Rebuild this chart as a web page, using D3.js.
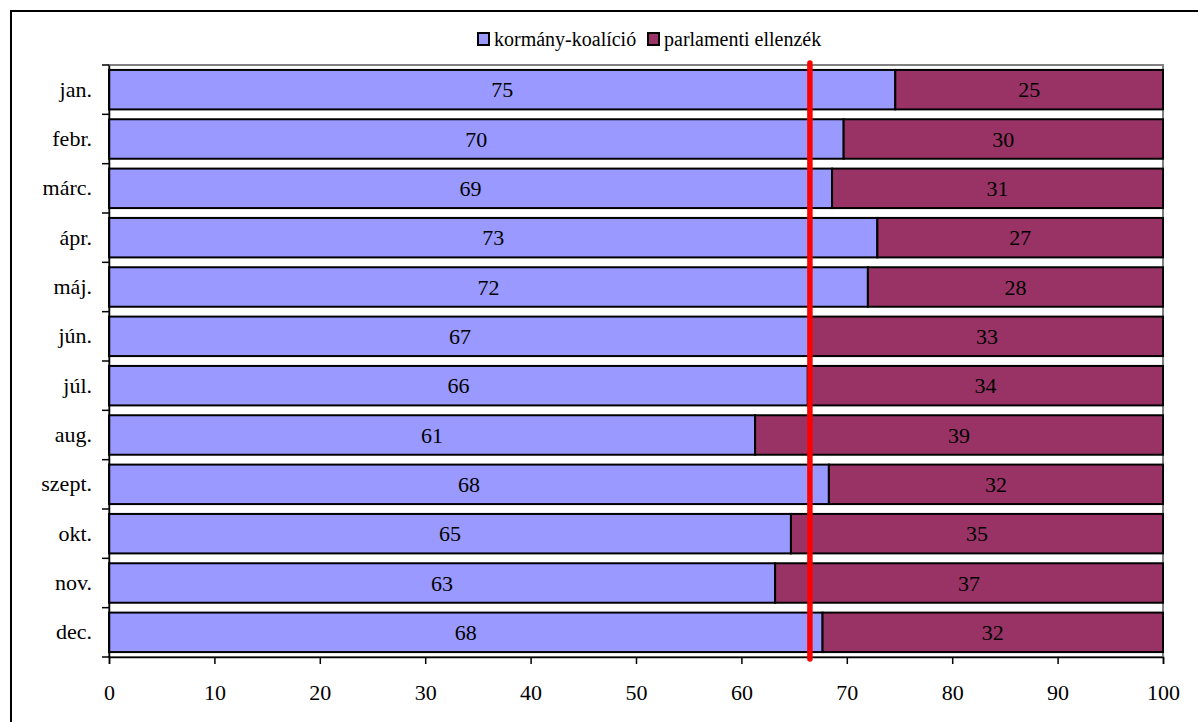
<!DOCTYPE html>
<html>
<head>
<meta charset="utf-8">
<script src="https://d3js.org/d3.v7.min.js"></script>
<style>
  body { margin: 0; background: #fff; }
</style>
</head>
<body>
<div id="chart"></div>
<script>
// months and shares (%)
var months = ["jan.", "febr.", "márc.", "ápr.", "máj.", "jún.", "júl.", "aug.", "szept.", "okt.", "nov.", "dec."];
var koalicio = [74.6, 69.7, 68.6, 72.9, 72.0, 66.6, 66.3, 61.3, 68.3, 64.7, 63.2, 67.7];
var ellenzek = [25.4, 30.3, 31.4, 27.1, 28.0, 33.4, 33.7, 38.7, 31.7, 35.3, 36.8, 32.3];
var seriesNames = ["kormány-koalíció", "parlamenti ellenzék"];
var colors = ["#9999FF", "#993366"];
var xTicks = [0, 10, 20, 30, 40, 50, 60, 70, 80, 90, 100];
var twoThirds = 66.5;

var serif = "'Liberation Serif', 'Times New Roman', Times, 'DejaVu Serif', serif";

var W = 1198, H = 722;
var margin = {top: 65, right: 35, bottom: 65, left: 109},
    width = 1163 - margin.left,
    height = 657 - margin.top;

var svg = d3.select("#chart")
  .append("svg")
    .attr("width", W)
    .attr("height", H)
    .style("font-family", serif);

// outer frame
svg.append("rect")
  .attr("x", 11).attr("y", 11)
  .attr("width", 1300).attr("height", 800)
  .attr("fill", "none")
  .attr("stroke", "#000")
  .attr("stroke-width", 2);

var g = svg.append("g")
  .attr("transform", "translate(" + margin.left + "," + margin.top + ")");

var x = d3.scaleLinear().domain([0, 100]).range([0, width]);
var y = d3.scaleBand().domain(months).range([0, height])
  .paddingInner(0.2).paddingOuter(0.1);

// plot area border
g.append("rect")
  .attr("x", 0).attr("y", 0)
  .attr("width", width).attr("height", height)
  .attr("fill", "none")
  .attr("stroke", "#808080")
  .attr("stroke-width", 2);

var rows = months.map(function(m, i) {
  return {month: m, vals: [koalicio[i], ellenzek[i]]};
});

var row = g.selectAll(".row")
  .data(rows)
  .enter().append("g")
    .attr("class", "row")
    .attr("transform", function(d) { return "translate(0," + y(d.month) + ")"; });

row.each(function(d) {
  var sel = d3.select(this);
  var start = 0;
  d.vals.forEach(function(v, k) {
    sel.append("rect")
      .attr("x", x(start))
      .attr("y", 0)
      .attr("width", x(start + v) - x(start))
      .attr("height", y.bandwidth())
      .attr("fill", colors[k])
      .attr("stroke", "#000")
      .attr("stroke-width", 2);
    sel.append("text")
      .attr("x", x(start + v / 2))
      .attr("y", y.bandwidth() / 2)
      .attr("dy", "0.35em")
      .attr("text-anchor", "middle")
      .style("font-family", serif)
      .style("font-size", "22px")
      .text(d3.format(".0f")(v));
    start += v;
  });
});

// x axis
var xAxis = g.append("g")
  .attr("transform", "translate(0," + height + ")")
  .call(d3.axisBottom(x).tickValues(xTicks).tickSize(7).tickPadding(20));
xAxis.selectAll("text").style("font-family", serif).style("font-size", "22px").attr("fill", "#000");
xAxis.select(".domain").attr("stroke", "#000").attr("stroke-width", 1.5);
xAxis.selectAll(".tick line").attr("stroke", "#000").attr("stroke-width", 1.5);

// y axis: labels at band centres, ticks at band edges
var yAxis = g.append("g")
  .call(d3.axisLeft(y).tickSize(0).tickPadding(17));
yAxis.selectAll("text").style("font-family", serif).style("font-size", "22px").attr("fill", "#000");
yAxis.select(".domain").attr("stroke", "#000").attr("stroke-width", 1.5);
g.selectAll(".ytick")
  .data(d3.range(months.length + 1))
  .enter().append("line")
    .attr("class", "ytick")
    .attr("x1", -7).attr("x2", 0)
    .attr("y1", function(i) { return y.range()[0] + i * y.step(); })
    .attr("y2", function(i) { return y.range()[0] + i * y.step(); })
    .attr("stroke", "#000")
    .attr("stroke-width", 1.5);

// two-thirds line
g.append("line")
  .attr("x1", x(twoThirds)).attr("x2", x(twoThirds))
  .attr("y1", -2).attr("y2", height + 2)
  .attr("stroke", "#ff0000")
  .attr("stroke-width", 5.5)
  .attr("stroke-linecap", "round");

// legend
var legend = svg.append("g").attr("transform", "translate(478,33)");
var legX = [0, 170];
seriesNames.forEach(function(name, k) {
  var lg = legend.append("g").attr("transform", "translate(" + legX[k] + ",0)");
  lg.append("rect")
    .attr("x", 0).attr("y", 0)
    .attr("width", 11).attr("height", 12)
    .attr("fill", colors[k])
    .attr("stroke", "#000")
    .attr("stroke-width", 2);
  lg.append("text")
    .attr("x", 16).attr("y", 6)
    .attr("dy", "0.35em")
    .style("font-family", serif)
    .style("font-size", "20px")
    .text(name);
});
</script>
</body>
</html>
